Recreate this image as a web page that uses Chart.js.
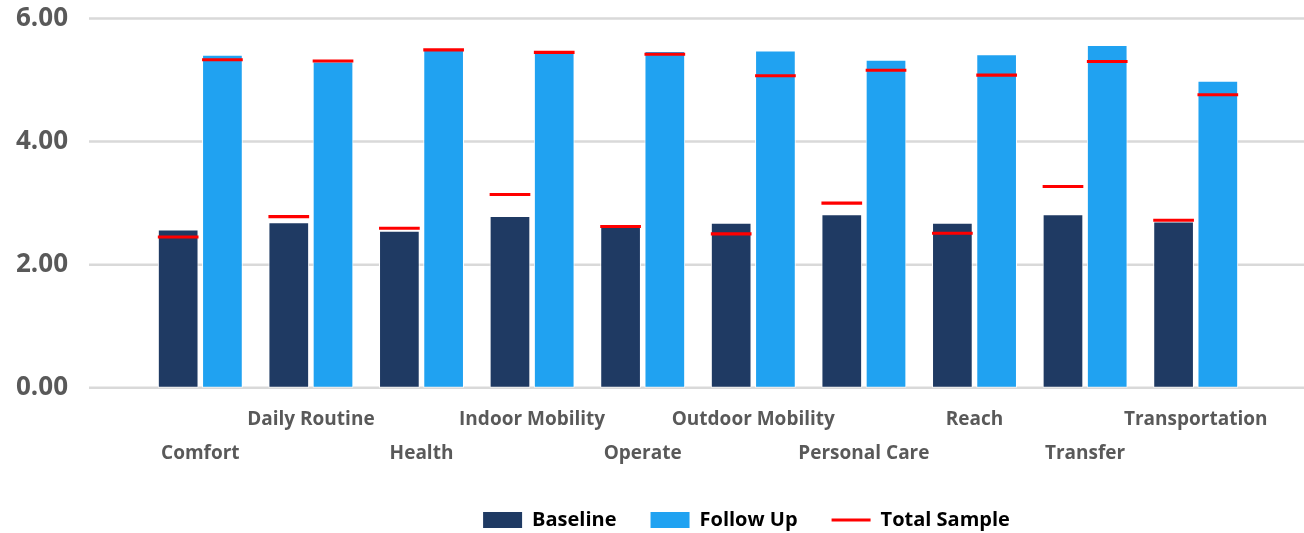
<!DOCTYPE html>
<html>
<head>
<meta charset="utf-8">
<script src="https://cdn.jsdelivr.net/npm/chart.js@4.4.1/dist/chart.umd.min.js"></script>
<style>
  html, body { margin: 0; padding: 0; background: #ffffff; }
</style>
</head>
<body>
<canvas id="chart" width="1304" height="533"></canvas>
<script>
// Chart data
const categories = ['Comfort', 'Daily Routine', 'Health', 'Indoor Mobility', 'Operate',
    'Outdoor Mobility', 'Personal Care', 'Reach', 'Transfer', 'Transportation'];
const baseline = [2.57, 2.69, 2.55, 2.79, 2.64, 2.68, 2.82, 2.68, 2.82, 2.70];
const followUp = [5.41, 5.30, 5.52, 5.46, 5.47, 5.48, 5.33, 5.42, 5.57, 4.99];
const totalBaseline = [2.45, 2.78, 2.59, 3.14, 2.62, 2.50, 3.00, 2.51, 3.27, 2.72];
const totalFollowUp = [5.33, 5.31, 5.49, 5.45, 5.42, 5.07, 5.16, 5.08, 5.30, 4.76];
const yTicks = [0, 2, 4, 6];

const NAVY = '#1f3a63';
const BLUE = '#20a2f1';
const RED = '#ff0000';
const GRID = '#d9d9d9';
const AXIS_TEXT = '#595959';
const FONT = "'Open Sans', sans-serif";
const MARK = 0.025; // half thickness of the red total sample mark, in axis units

Chart.defaults.font.family = FONT;

// Red marks are thin floating bars sitting on the same slot as the bar
function markRange(values) {
    return values.map(v => [v - MARK, v + MARK]);
}

// Gridlines in the original run wider than the category band
const wideGrid = {
    id: 'wideGrid',
    beforeDatasetsDraw(chart) {
        const { ctx, chartArea, scales } = chart;
        ctx.save();
        ctx.strokeStyle = GRID;
        ctx.lineWidth = 2.5;
        yTicks.forEach(t => {
            const py = scales.y.getPixelForValue(t);
            ctx.beginPath();
            ctx.moveTo(chartArea.left - 56, py);
            ctx.lineTo(chart.width, py);
            ctx.stroke();
        });
        ctx.restore();
    }
};

// Move the legend to where it sits in the original
const legendShift = {
    id: 'legendShift',
    afterLayout(chart) {
        const lg = chart.legend;
        lg.left += 121;
        lg.right += 121;
        lg.top += 7;
        lg.bottom += 7;
    }
};

new Chart(document.getElementById('chart'), {
    type: 'bar',
    data: {
        labels: categories,
        datasets: [
            {
                label: 'Baseline',
                data: baseline,
                backgroundColor: NAVY,
                borderColor: '#ffffff',
                borderWidth: 1,
                borderSkipped: false,
                stack: 'baseline',
                order: 2
            },
            {
                label: 'Follow Up',
                data: followUp,
                backgroundColor: BLUE,
                borderColor: '#ffffff',
                borderWidth: 1,
                borderSkipped: false,
                stack: 'followup',
                order: 2
            },
            {
                label: 'Total Sample',
                data: markRange(totalBaseline),
                backgroundColor: RED,
                borderWidth: 0,
                stack: 'baseline',
                order: 1
            },
            {
                label: 'Total Sample',
                data: markRange(totalFollowUp),
                backgroundColor: RED,
                borderWidth: 0,
                stack: 'followup',
                order: 1
            }
        ]
    },
    options: {
        responsive: false,
        animation: false,
        categoryPercentage: 0.8,
        barPercentage: 0.92,
        layout: {
            padding: { left: 0, right: 53, top: 18.5, bottom: 0 }
        },
        plugins: {
            tooltip: { enabled: false },
            legend: {
                position: 'bottom',
                labels: {
                    usePointStyle: true,
                    pointStyleWidth: 39,
                    boxHeight: 16,
                    padding: 34,
                    color: '#000000',
                    font: { size: 20, weight: 'bold' },
                    generateLabels: function() {
                        return [
                            { text: 'Baseline', fillStyle: NAVY, strokeStyle: NAVY, lineWidth: 0, pointStyle: 'rect', hidden: false, datasetIndex: 0 },
                            { text: 'Follow Up', fillStyle: BLUE, strokeStyle: BLUE, lineWidth: 0, pointStyle: 'rect', hidden: false, datasetIndex: 1 },
                            { text: 'Total Sample', fillStyle: RED, strokeStyle: RED, lineWidth: 3, pointStyle: 'line', hidden: false, datasetIndex: 2 }
                        ];
                    }
                }
            }
        },
        scales: {
            x: {
                grid: { display: false, drawTicks: false },
                border: { display: false },
                afterFit: function(scale) { scale.height = 81.3; },
                ticks: {
                    autoSkip: false,
                    maxRotation: 0,
                    padding: 15,
                    color: AXIS_TEXT,
                    font: { size: 19, weight: 'bold', lineHeight: 1.77 },
                    // staggered labels: every other one drops to a second row
                    callback: function(value, index) {
                        const name = categories[index];
                        return index % 2 ? name : ['', name];
                    }
                }
            },
            y: {
                stacked: false,
                min: 0,
                max: 6,
                // hidden tick marks only push the labels out to the left
                grid: { display: false, drawTicks: true, tickLength: 77 },
                border: { display: false },
                afterFit: function(scale) { scale.width = 145; },
                ticks: {
                    stepSize: 2,
                    padding: 0,
                    color: AXIS_TEXT,
                    font: { size: 26, weight: 'bold' },
                    callback: function(value) { return value.toFixed(2); }
                }
            }
        }
    },
    plugins: [wideGrid, legendShift]
});
</script>
</body>
</html>
